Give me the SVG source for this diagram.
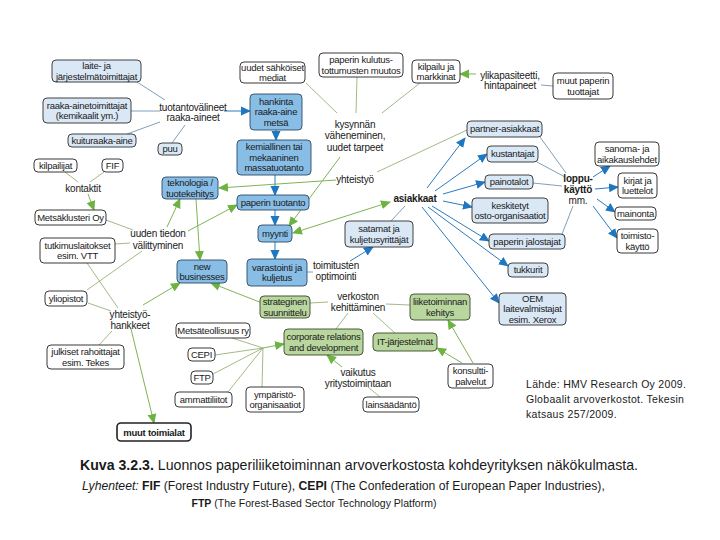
<svg xmlns="http://www.w3.org/2000/svg" width="720" height="540" viewBox="0 0 720 540">
<style>
text{font-family:"Liberation Sans",Arial,sans-serif;fill:#1a1a1a}
.t{font-size:9.5px;letter-spacing:-0.25px;text-anchor:middle}
.f{font-size:10px;letter-spacing:-0.2px;text-anchor:middle}
.b{font-weight:bold}
rect{rx:4;ry:4;stroke-width:0.9}
.lb{fill:#dae8f6;stroke:#2d2d2d}
.mb{fill:#88bde6;stroke:#2d4a66}
.gr{fill:#b9d69f;stroke:#3a4a2a}
.wh{fill:#ffffff;stroke:#222}
.bl{stroke:#2b7bbf;stroke-width:1;fill:none;marker-end:url(#ab)}
.gn{stroke:#80b358;stroke-width:1;fill:none;marker-end:url(#ag)}
.pb{stroke:#5f88a8;stroke-width:0.8;fill:none}
.pg{stroke:#8aa86a;stroke-width:0.8;fill:none}
.src{font-size:10.5px;letter-spacing:0.3px}
</style>
<defs>
<marker id="ab" viewBox="0 0 10 10" refX="9" refY="5" markerWidth="10" markerHeight="10" markerUnits="userSpaceOnUse" orient="auto-start-reverse"><path d="M0,0.5 L10,5 L0,9.5 z" fill="#1f77c0"/></marker>
<marker id="ag" viewBox="0 0 10 10" refX="9" refY="5" markerWidth="10" markerHeight="10" markerUnits="userSpaceOnUse" orient="auto-start-reverse"><path d="M0,0.5 L10,5 L0,9.5 z" fill="#6cb33f"/></marker>
</defs>
<rect x="0" y="0" width="720" height="540" style="fill:#fff;stroke:none;rx:0"/>
<g id="connectors">
<line class="pb" x1="137" y1="82" x2="165" y2="100"/>
<line class="pb" x1="131" y1="111" x2="160" y2="111"/>
<line class="pb" x1="127" y1="134" x2="160" y2="122"/>
<line class="pb" x1="172" y1="143" x2="185" y2="125"/>
<line class="bl" x1="224" y1="111" x2="250" y2="111"/>
<line class="bl" x1="276" y1="130" x2="276" y2="140"/>
<line class="bl" x1="275" y1="175" x2="275" y2="195"/>
<line class="bl" x1="275" y1="210" x2="275" y2="225"/>
<line class="bl" x1="275" y1="242" x2="275" y2="259"/>
<line class="pb" x1="307" y1="272" x2="313" y2="272"/>
<line class="bl" x1="350" y1="261" x2="373" y2="247"/>
<line class="pg" x1="306" y1="83" x2="337" y2="113"/>
<line class="pg" x1="357" y1="77" x2="356" y2="113"/>
<line class="pg" x1="420" y1="83" x2="382" y2="113"/>
<line class="gn" x1="476" y1="74" x2="460" y2="74"/>
<line class="pb" x1="541" y1="85" x2="553" y2="86"/>
<line class="gn" x1="340" y1="157" x2="289" y2="226"/>
<line class="gn" x1="390" y1="202" x2="293" y2="233" style="marker-start:url(#ag)"/>
<line class="gn" x1="336" y1="180" x2="219" y2="188"/>
<line class="pg" x1="377" y1="172" x2="467" y2="130"/>
<line class="pb" x1="405" y1="206" x2="391" y2="221"/>
<line class="bl" x1="427" y1="188" x2="465" y2="138"/>
<line class="bl" x1="435" y1="191" x2="487" y2="154"/>
<line class="bl" x1="443" y1="194" x2="485" y2="182"/>
<line class="bl" x1="443" y1="201" x2="472" y2="207"/>
<line class="bl" x1="432" y1="206" x2="489" y2="241"/>
<line class="bl" x1="428" y1="207" x2="508" y2="266"/>
<line class="bl" x1="422" y1="207" x2="499" y2="303"/>
<line class="pb" x1="540" y1="137" x2="566" y2="173"/>
<line class="pb" x1="537" y1="162" x2="565" y2="177"/>
<line class="pb" x1="533" y1="183" x2="562" y2="186"/>
<line class="pb" x1="562" y1="234" x2="573" y2="206"/>
<line class="bl" x1="593" y1="177" x2="610" y2="166"/>
<line class="bl" x1="595" y1="189" x2="618" y2="187"/>
<line class="bl" x1="597" y1="199" x2="615" y2="212"/>
<line class="bl" x1="593" y1="206" x2="617" y2="238"/>
<line class="pg" x1="65" y1="172" x2="78" y2="182"/>
<line class="pg" x1="104" y1="172" x2="90" y2="182"/>
<line class="gn" x1="88" y1="194" x2="94" y2="210"/>
<line class="pg" x1="106" y1="220" x2="133" y2="230"/>
<line class="pg" x1="115" y1="244" x2="130" y2="243"/>
<line class="gn" x1="167" y1="227" x2="180" y2="199"/>
<line class="gn" x1="188" y1="231" x2="237" y2="205"/>
<line class="gn" x1="196" y1="199" x2="200" y2="260"/>
<line class="pg" x1="87" y1="290" x2="142" y2="251"/>
<line class="pg" x1="87" y1="263" x2="118" y2="308"/>
<line class="pg" x1="88" y1="303" x2="111" y2="311"/>
<line class="pg" x1="99" y1="345" x2="112" y2="331"/>
<line class="gn" x1="143" y1="305" x2="180" y2="283"/>
<line class="gn" x1="262" y1="303" x2="211" y2="283"/>
<line class="gn" x1="131" y1="329" x2="154" y2="423"/>
<line class="pg" x1="310" y1="303" x2="328" y2="302"/>
<line class="pg" x1="386" y1="304" x2="410" y2="305"/>
<line class="pg" x1="348" y1="313" x2="336" y2="329"/>
<line class="pg" x1="373" y1="313" x2="395" y2="333"/>
<line class="pg" x1="232" y1="338" x2="263" y2="348"/>
<line class="pg" x1="215" y1="355" x2="263" y2="348"/>
<line class="pg" x1="213" y1="374" x2="263" y2="348"/>
<line class="pg" x1="228" y1="392" x2="263" y2="348"/>
<line class="pg" x1="262" y1="387" x2="263" y2="348"/>
<line class="gn" x1="263" y1="348" x2="284" y2="344"/>
<line class="gn" x1="342" y1="367" x2="327" y2="355"/>
<line class="pg" x1="380" y1="397" x2="368" y2="387"/>
<line class="gn" x1="473" y1="363" x2="448" y2="320"/>
<line class="gn" x1="462" y1="363" x2="437" y2="348"/>
</g>
<g id="n-laite"><rect class="lb" x="52" y="60" width="89" height="22"/><text class="t" x="96.5" y="69">laite- ja</text><text class="t" x="96.5" y="79.5">järjestelmätoimittajat</text></g>
<g id="n-raaka"><rect class="lb" x="43" y="98" width="88" height="25"/><text class="t" x="87" y="108.5">raaka-ainetoimittajat</text><text class="t" x="87" y="119">(kemikaalit ym.)</text></g>
<g id="n-kuitu"><rect class="lb" x="68" y="134" width="68" height="13"/><text class="t" x="102" y="143.8">kuituraaka-aine</text></g>
<g id="n-puu"><rect class="lb" x="158" y="143" width="24" height="12"/><text class="t" x="170" y="152.3">puu</text></g>
<g id="n-tuotanto"><text class="f" x="193" y="110.5">tuotantovälineet</text><text class="f" x="193" y="120.5">raaka-aineet</text></g>
<g id="n-hankinta"><rect class="mb" x="250" y="94" width="52" height="36"/><text class="t" x="276" y="104.8">hankinta</text><text class="t" x="276" y="115.3">raaka-aine</text><text class="t" x="276" y="125.8">metsä</text></g>
<g id="n-massa"><rect class="mb" x="237" y="140" width="74" height="35"/><text class="t" x="274" y="150.3">kemiallinen tai</text><text class="t" x="274" y="160.8">mekaaninen</text><text class="t" x="274" y="171.3">massatuotanto</text></g>
<g id="n-paperintuotanto"><rect class="mb" x="237" y="195" width="72" height="15"/><text class="t" x="273" y="205.8">paperin tuotanto</text></g>
<g id="n-myynti"><rect class="mb" x="258" y="225" width="34" height="17"/><text class="t" x="275" y="236.8">myynti</text></g>
<g id="n-varastointi"><rect class="mb" x="247" y="259" width="60" height="27"/><text class="t" x="277" y="270.5">varastointi ja</text><text class="t" x="277" y="281">kuljetus</text></g>
<g id="n-mediat"><rect class="wh" x="240" y="62" width="65" height="21"/><text class="t" x="272.5" y="70.5">uudet sähköiset</text><text class="t" x="272.5" y="81">mediat</text></g>
<g id="n-kulutus"><rect class="wh" x="319" y="53" width="84" height="24"/><text class="t" x="361" y="63">paperin kulutus-</text><text class="t" x="361" y="73.5">tottumusten muutos</text></g>
<g id="n-kilpailu"><rect class="wh" x="412" y="60" width="48" height="23"/><text class="t" x="436" y="69.5">kilpailu ja</text><text class="t" x="436" y="80">markkinat</text></g>
<g id="n-ylikapasiteetti"><text class="f" x="510" y="78.5">ylikapasiteetti,</text><text class="f" x="510" y="88.5">hintapaineet</text></g>
<g id="n-muutpaperin"><rect class="wh" x="553" y="73" width="60" height="26"/><text class="t" x="583" y="84">muut paperin</text><text class="t" x="583" y="94.5">tuottajat</text></g>
<g id="n-kysynta"><text class="f" x="355" y="127.5">kysynnän</text><text class="f" x="355" y="139">väheneminen,</text><text class="f" x="355" y="150.5">uudet tarpeet</text></g>
<g id="n-partner"><rect class="lb" x="467" y="121" width="75" height="16"/><text class="t" x="504.5" y="132.3">partner-asiakkaat</text></g>
<g id="n-kustantajat"><rect class="lb" x="487" y="146" width="51" height="16"/><text class="t" x="512.5" y="157.3">kustantajat</text></g>
<g id="n-painotalot"><rect class="lb" x="485" y="175" width="48" height="14"/><text class="t" x="509" y="185.3">painotalot</text></g>
<g id="n-keskitetyt"><rect class="lb" x="472" y="198" width="76" height="25"/><text class="t" x="510" y="208.5">keskitetyt</text><text class="t" x="510" y="219">osto-organisaatiot</text></g>
<g id="n-jalostajat"><rect class="lb" x="489" y="234" width="76" height="15"/><text class="t" x="527" y="244.8">paperin jalostajat</text></g>
<g id="n-tukkurit"><rect class="lb" x="508" y="263" width="40" height="14"/><text class="t" x="528" y="273.3">tukkurit</text></g>
<g id="n-oem"><rect class="lb" x="499" y="293" width="67" height="32"/><text class="t" x="532.5" y="301.8">OEM</text><text class="t" x="532.5" y="312.3">laitevalmistajat</text><text class="t" x="532.5" y="322.8">esim. Xerox</text></g>
<g id="n-loppu"><text class="f b" x="578" y="181.5">loppu-</text><text class="f b" x="578" y="192.5">käyttö</text><text class="f" x="578" y="203.5">mm.</text></g>
<g id="n-sanoma"><rect class="wh" x="595" y="142" width="64" height="24"/><text class="t" x="627" y="152">sanoma- ja</text><text class="t" x="627" y="162.5">aikakauslehdet</text></g>
<g id="n-kirjat"><rect class="wh" x="618" y="173" width="39" height="25"/><text class="t" x="637.5" y="183.5">kirjat ja</text><text class="t" x="637.5" y="194">luettelot</text></g>
<g id="n-mainonta"><rect class="wh" x="615" y="207" width="41" height="13"/><text class="t" x="635.5" y="216.8">mainonta</text></g>
<g id="n-toimisto"><rect class="wh" x="617" y="229" width="41" height="24"/><text class="t" x="637.5" y="239">toimisto-</text><text class="t" x="637.5" y="249.5">käyttö</text></g>
<g id="n-kilpailijat"><rect class="wh" x="34" y="159" width="43" height="13"/><text class="t" x="55.5" y="168.8">kilpailijat</text></g>
<g id="n-fif"><rect class="wh" x="102" y="159" width="21" height="13"/><text class="t" x="112.5" y="168.8">FIF</text></g>
<g id="n-kontaktit"><text class="f" x="83" y="191.5">kontaktit</text></g>
<g id="n-metsaklusteri"><rect class="wh" x="35" y="210" width="71" height="15"/><text class="t" x="70.5" y="220.8">Metsäklusteri Oy</text></g>
<g id="n-tutkimus"><rect class="wh" x="40" y="238" width="75" height="25"/><text class="t" x="77.5" y="248.5">tutkimuslaitokset</text><text class="t" x="77.5" y="259">esim. VTT</text></g>
<g id="n-uuden"><text class="f" x="158" y="236.5">uuden tiedon</text><text class="f" x="158" y="248.5">välittyminen</text></g>
<g id="n-teknologia"><rect class="mb" x="162" y="177" width="56" height="22"/><text class="t" x="190" y="186">teknologia /</text><text class="t" x="190" y="196.5">tuotekehitys</text></g>
<g id="n-yhteistyo"><text class="f" x="355" y="182.5">yhteistyö</text></g>
<g id="n-asiakkaat"><text class="f b" x="415" y="201.5">asiakkaat</text></g>
<g id="n-satamat"><rect class="lb" x="345" y="221" width="68" height="26"/><text class="t" x="379" y="232">satamat ja</text><text class="t" x="379" y="242.5">kuljetusyrittäjät</text></g>
<g id="n-toimitusten"><text class="f" x="336" y="268.5">toimitusten</text><text class="f" x="336" y="279.5">optimointi</text></g>
<g id="n-newbusinesses"><rect class="mb" x="177" y="260" width="50" height="23"/><text class="t" x="202" y="269.5">new</text><text class="t" x="202" y="280">businesses</text></g>
<g id="n-yliopistot"><rect class="wh" x="45" y="291" width="42" height="15"/><text class="t" x="66" y="301.8">yliopistot</text></g>
<g id="n-hankkeet"><text class="f" x="130" y="317.5">yhteistyö-</text><text class="f" x="130" y="328.5">hankkeet</text></g>
<g id="n-julkiset"><rect class="wh" x="47" y="345" width="77" height="24"/><text class="t" x="85.5" y="355">julkiset rahoittajat</text><text class="t" x="85.5" y="365.5">esim. Tekes</text></g>
<g id="n-strateginen"><rect class="gr" x="260" y="296" width="50" height="22"/><text class="t" x="285" y="305">strateginen</text><text class="t" x="285" y="315.5">suunnittelu</text></g>
<g id="n-verkoston"><text class="f" x="358" y="299.5">verkoston</text><text class="f" x="358" y="310.5">kehittäminen</text></g>
<g id="n-liiketoiminnan"><rect class="gr" x="410" y="294" width="60" height="26"/><text class="t" x="440" y="305">liiketoiminnan</text><text class="t" x="440" y="315.5">kehitys</text></g>
<g id="n-metsateollisuus"><rect class="wh" x="176" y="323" width="74" height="15"/><text class="t" x="213" y="333.8">Metsäteollisuus ry</text></g>
<g id="n-cepi"><rect class="wh" x="188" y="348" width="27" height="13"/><text class="t" x="201.5" y="357.8">CEPI</text></g>
<g id="n-ftp"><rect class="wh" x="191" y="371" width="22" height="13"/><text class="t" x="202" y="380.8">FTP</text></g>
<g id="n-ammattiliitot"><rect class="wh" x="175" y="392" width="57" height="15"/><text class="t" x="203.5" y="402.8">ammattiliitot</text></g>
<g id="n-ymparisto"><rect class="wh" x="246" y="387" width="58" height="25"/><text class="t" x="275" y="397.5">ympäristö-</text><text class="t" x="275" y="408">organisaatiot</text></g>
<g id="n-corporate"><rect class="gr" x="284" y="329" width="79" height="26"/><text class="t" x="323.5" y="340">corporate relations</text><text class="t" x="323.5" y="350.5">and development</text></g>
<g id="n-it"><rect class="gr" x="373" y="333" width="64" height="18"/><text class="t" x="405" y="345.3">IT-järjestelmät</text></g>
<g id="n-konsultti"><rect class="wh" x="448" y="364" width="45" height="24"/><text class="t" x="470.5" y="374">konsultti-</text><text class="t" x="470.5" y="384.5">palvelut</text></g>
<g id="n-vaikutus"><text class="f" x="358" y="375.5">vaikutus</text><text class="f" x="358" y="386.5">yritystoimintaan</text></g>
<g id="n-lainsaadanto"><rect class="wh" x="363" y="397" width="56" height="15"/><text class="t" x="391" y="407.8">lainsäädäntö</text></g>
<g id="n-muuttoimialat"><rect class="wh" x="117" y="423" width="74" height="18" style="stroke-width:1.6"/><text class="t b" x="154" y="435.5">muut toimialat</text></g>
<g id="source">
<text class="src" x="526" y="388">Lähde: HMV Research Oy 2009.</text>
<text class="src" x="526" y="403">Globaalit arvoverkostot. Tekesin</text>
<text class="src" x="526" y="418">katsaus 257/2009.</text>
</g>
<g id="caption">
<text x="80" y="470" style="font-size:14.5px" textLength="558" lengthAdjust="spacingAndGlyphs"><tspan font-weight="bold">Kuva 3.2.3.</tspan> Luonnos paperiliiketoiminnan arvoverkostosta kohdeyrityksen näkökulmasta.</text>
<text x="82" y="490" style="font-size:12.2px"><tspan font-style="italic">Lyhenteet:</tspan> <tspan font-weight="bold">FIF</tspan> (Forest Industry Future),  <tspan font-weight="bold">CEPI</tspan> (The Confederation of European Paper Industries),</text>
<text x="314" y="507" style="font-size:10.5px;text-anchor:middle"><tspan font-weight="bold">FTP</tspan> (The Forest-Based Sector Technology Platform)</text>
</g>
</svg>
